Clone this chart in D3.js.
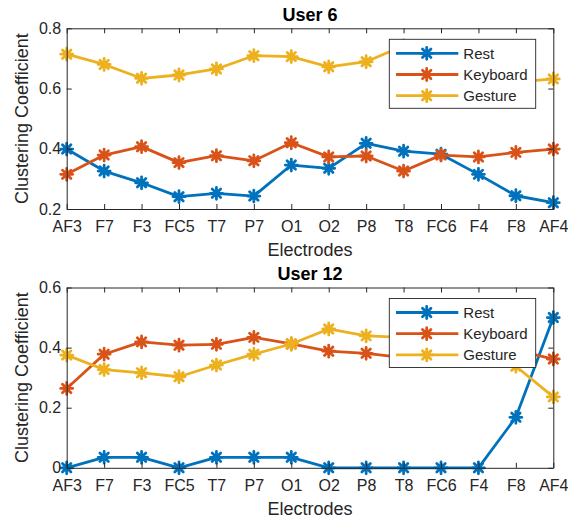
<!DOCTYPE html>
<html>
<head>
<meta charset="utf-8">
<script src="https://cdn.jsdelivr.net/npm/d3@7"></script>
<style>
  html, body { margin: 0; padding: 0; background: #fff; }
  svg { display: block; font-family: "Liberation Sans", Arial, Helvetica, sans-serif; }
</style>
</head>
<body>
<svg id="chart" width="568" height="519"></svg>
<script>
// Electrode channels along the x axis
const electrodes = ["AF3", "F7", "F3", "FC5", "T7", "P7", "O1", "O2", "P8", "T8", "FC6", "F4", "F8", "AF4"];
const seriesNames = ["Rest", "Keyboard", "Gesture"];

// Clustering coefficient per electrode, User 6
const user6Rest     = [0.399, 0.326, 0.287, 0.241, 0.252, 0.243, 0.346, 0.335, 0.418, 0.392, 0.382, 0.315, 0.244, 0.221];
const user6Keyboard = [0.315, 0.379, 0.407, 0.354, 0.377, 0.360, 0.420, 0.373, 0.376, 0.326, 0.379, 0.373, 0.388, 0.399];
const user6Gesture  = [0.714, 0.680, 0.634, 0.645, 0.665, 0.709, 0.706, 0.672, 0.689, 0.742, 0.700, 0.660, 0.621, 0.632];

// Clustering coefficient per electrode, User 12
const user12Rest     = [0.000, 0.035, 0.035, 0.000, 0.035, 0.035, 0.035, 0.000, 0.000, 0.000, 0.000, 0.000, 0.168, 0.500];
const user12Keyboard = [0.264, 0.378, 0.419, 0.408, 0.411, 0.434, 0.412, 0.388, 0.381, 0.367, 0.375, 0.380, 0.392, 0.362];
const user12Gesture  = [0.375, 0.327, 0.316, 0.303, 0.342, 0.378, 0.412, 0.462, 0.439, 0.434, 0.430, 0.400, 0.338, 0.236];

// Y tick values per panel
const user6Ticks  = [0.2, 0.4, 0.6, 0.8];
const user12Ticks = [0, 0.2, 0.4, 0.6];

const colors = ["#0072BD", "#D95319", "#EDB120"];
const ink = "#262626";

const panels = [
  { title: "User 6",  top: 28.3,  bottom: 209.0, domain: [0.2, 0.8], ticks: user6Ticks,
    series: [user6Rest, user6Keyboard, user6Gesture] },
  { title: "User 12", top: 287.5, bottom: 467.8, domain: [0, 0.6],   ticks: user12Ticks,
    series: [user12Rest, user12Keyboard, user12Gesture] }
];

const left = 66.7, right = 553.3;
const svg = d3.select("#chart");

const x = d3.scalePoint().domain(electrodes).range([left, right]);

// MATLAB-style '*' marker: plus combined with a cross
function asterisk(r) {
  const d = r * Math.SQRT1_2;
  return `M${-r},0L${r},0M0,${-r}L0,${r}M${-d},${-d}L${d},${d}M${-d},${d}L${d},${-d}`;
}

function styleAxis(g) {
  g.selectAll("path.domain").attr("stroke", ink).attr("stroke-width", 1);
  g.selectAll(".tick line").attr("stroke", ink).attr("stroke-width", 1);
  g.selectAll(".tick text").attr("fill", ink).style("font-size", "16px")
    .style("font-family", '"Liberation Sans", Arial, Helvetica, sans-serif');
}

panels.forEach(p => {
  const y = d3.scaleLinear().domain(p.domain).range([p.bottom, p.top]);
  const fmt = v => (v === 0 ? "0" : d3.format(".1f")(v));
  const g = svg.append("g");

  // Series lines and markers (drawn in legend order, last on top)
  p.series.forEach((vals, si) => {
    const pts = vals.map((v, i) => [x(electrodes[i]), y(v)]);
    g.append("path")
      .attr("d", d3.line()(pts))
      .attr("fill", "none")
      .attr("stroke", colors[si])
      .attr("stroke-width", 2.8)
      .attr("stroke-linejoin", "round");
    g.append("g").selectAll("path")
      .data(pts)
      .join("path")
      .attr("transform", d => `translate(${d[0]},${d[1]})`)
      .attr("d", asterisk(6))
      .attr("fill", "none")
      .attr("stroke", colors[si])
      .attr("stroke-width", 2.8)
      .attr("stroke-linecap", "round");
  });

  // Axes box with inward ticks on all four sides
  g.append("g").attr("transform", `translate(0,${p.bottom})`)
    .call(d3.axisBottom(x).tickSizeInner(-5).tickSizeOuter(0).tickPadding(11.6))
    .call(styleAxis);
  g.append("g").attr("transform", `translate(0,${p.top})`)
    .call(d3.axisTop(x).tickSizeInner(-5).tickSizeOuter(0).tickFormat(""))
    .call(styleAxis);
  g.append("g").attr("transform", `translate(${left},0)`)
    .call(d3.axisLeft(y).tickValues(p.ticks).tickFormat(fmt).tickSizeInner(-5).tickSizeOuter(0).tickPadding(5.5))
    .call(styleAxis);
  g.append("g").attr("transform", `translate(${right},0)`)
    .call(d3.axisRight(y).tickValues(p.ticks).tickFormat("").tickSizeInner(-5).tickSizeOuter(0))
    .call(styleAxis);

  // Title and axis labels
  g.append("text")
    .attr("x", (left + right) / 2).attr("y", p.top - 7.8)
    .attr("text-anchor", "middle")
    .attr("fill", "#000")
    .style("font-size", "18px").style("font-weight", "bold")
    .text(p.title);
  g.append("text")
    .attr("x", (left + right) / 2).attr("y", p.bottom + 47)
    .attr("text-anchor", "middle")
    .attr("fill", ink)
    .style("font-size", "18px")
    .text("Electrodes");
  g.append("text")
    .attr("transform", `translate(28,${(p.top + p.bottom) / 2}) rotate(-90)`)
    .attr("text-anchor", "middle")
    .attr("fill", ink)
    .style("font-size", "18px")
    .text("Clustering Coefficient");

  // Legend, upper right
  const lx = 389.3, ly = p.top + 11, lw = 146.4, lh = 69;
  const lg = g.append("g");
  lg.append("rect")
    .attr("x", lx).attr("y", ly).attr("width", lw).attr("height", lh)
    .attr("fill", "#fff").attr("stroke", ink).attr("stroke-width", 0.9);
  seriesNames.forEach((name, si) => {
    const ry = ly + 14 + si * 21.2;
    lg.append("line")
      .attr("x1", lx + 6.7).attr("x2", lx + 69)
      .attr("y1", ry).attr("y2", ry)
      .attr("stroke", colors[si]).attr("stroke-width", 2.8);
    lg.append("path")
      .attr("transform", `translate(${lx + 37.4},${ry})`)
      .attr("d", asterisk(6))
      .attr("fill", "none")
      .attr("stroke", colors[si]).attr("stroke-width", 2.8)
      .attr("stroke-linecap", "round");
    lg.append("text")
      .attr("x", lx + 74).attr("y", ry + 5.4)
      .attr("fill", ink)
      .style("font-size", "15px")
      .text(name);
  });
});
</script>
</body>
</html>
